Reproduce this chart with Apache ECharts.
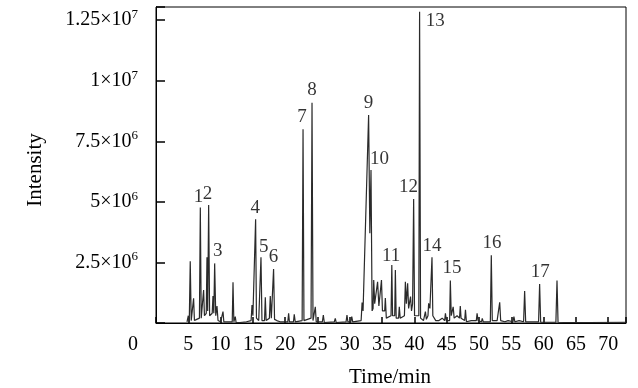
<!DOCTYPE html>
<html><head><meta charset="utf-8">
<script src="https://cdn.jsdelivr.net/npm/echarts@6/dist/echarts.min.js"></script>
<style>html,body{margin:0;padding:0;background:#fff}#c{width:638px;height:388px}</style>
</head><body><div id="c"></div>
<script>
// Retention time (min)
const times = [
 4.8,5.0,5.15,5.3,5.45,5.7,5.82,5.95,6.3,6.72,6.86,7.0,7.25,7.37,7.5,7.78,7.89,8.0,8.15,8.3,
 8.7,8.82,8.95,9.08,9.25,9.33,9.44,9.6,10.0,10.25,10.37,10.5,11.0,11.8,11.92,12.05,12.15,12.27,12.4,13.0,
 14.0,14.72,14.86,15.0,15.3,15.42,15.55,15.9,16.12,16.25,16.4,16.8,16.92,17.05,17.55,17.69,17.85,18.07,18.2,18.35,
 18.7,19.2,20.0,20.4,20.53,20.65,21.28,21.4,21.55,22.62,22.76,22.9,24.0,24.15,24.3,24.55,24.66,24.8,25.75,25.9,
 26.05,27.6,27.75,27.9,29.42,29.56,29.7,30.15,30.3,30.45,31.75,31.9,32.05,32.91,33.1,33.28,33.45,33.6,33.7,33.85,
 34.1,34.3,34.5,34.75,34.9,35.05,35.4,35.5,35.65,36.38,36.5,36.62,36.95,37.05,37.18,37.55,37.66,37.8,38.45,38.6,
 38.75,38.95,39.1,39.3,39.4,39.55,39.72,39.88,40.02,40.68,40.8,40.95,41.4,41.6,41.7,41.85,42.1,42.2,42.4,42.6,
 42.72,42.85,43.3,43.8,44.3,44.68,44.8,44.95,45.45,45.56,45.7,45.9,46.0,46.15,46.6,46.98,47.1,47.22,47.78,47.9,
 48.05,48.8,49.58,49.7,49.85,50.38,50.5,50.65,51.75,51.9,52.05,52.8,53.08,53.2,53.35,54.0,54.5,55.25,55.4,55.55,
 56.2,56.9,57.06,57.22,59.22,59.38,59.54,61.9,62.07,62.23,63.1,63.2,63.3,67.1,67.2,67.3,72.7
];
// Intensity (x10^6), same order as times
const intensities = [
 0.05,0.3,0.05,2.55,0.1,0.1,1.02,0.1,0.15,0.2,4.77,0.2,0.2,1.36,0.3,0.4,2.71,0.5,4.87,0.3,
 0.4,1.11,0.4,2.46,0.3,0.3,0.7,0.1,0.05,0.05,0.47,0.05,0.05,0.05,1.68,0.05,0.05,0.26,0.02,0.02,
 0.05,0.1,0.74,0.3,0.3,4.28,0.2,0.1,0.1,2.71,0.1,0.1,1.06,0.1,0.2,1.11,0.2,0.2,2.23,0.15,
 0.1,0.05,0.05,0.05,0.4,0.05,0.05,0.36,0.05,0.1,7.99,0.1,0.2,9.09,0.1,0.1,0.67,0.05,0.05,0.33,
 0.02,0.05,0.19,0.02,0.05,0.33,0.05,0.05,0.26,0.05,0.1,0.84,0.5,8.58,3.7,6.31,0.5,0.6,1.77,0.8,
 1.3,1.7,0.7,0.7,1.77,0.5,0.5,1.03,0.2,0.3,2.39,0.3,0.3,2.19,0.2,0.2,0.67,0.2,0.3,1.7,
 0.8,1.64,0.6,0.6,1.09,0.5,0.8,5.12,0.3,0.3,12.84,0.2,0.1,0.1,0.47,0.15,0.3,0.81,0.6,0.6,
 2.71,0.3,0.1,0.1,0.2,0.1,0.4,0.1,0.1,1.75,0.3,0.3,0.67,0.2,0.3,0.2,0.7,0.2,0.1,0.54,
 0.05,0.1,0.1,0.4,0.1,0.05,0.19,0.05,0.05,2.8,0.1,0.1,0.1,0.85,0.1,0.05,0.1,0.05,0.26,0.05,
 0.1,0.05,1.32,0.05,0.05,1.61,0.03,0.03,1.75,0.03,0.02,0.1,0.02,0.02,0.08,0.02,0.03
];

// Peak annotations: number and label position (time, intensity x10^6)
const peakNames = ['1','2','3','4','5','6','7','8','9','10','11','12','13','14','15','16','17'];
const peakLabelTimes = [6.59,7.99,9.54,15.37,16.66,18.2,22.6,24.15,32.91,34.61,36.38,39.1,43.24,42.72,45.82,52.01,59.49];
const peakLabelInts = [5.21,5.32,2.97,4.73,3.15,2.71,8.51,9.61,9.06,6.75,2.76,5.62,12.47,3.19,2.25,3.31,2.12];

// Axis ticks
const xTickValues = [5,10,15,20,25,30,35,40,45,50,55,60,65,70];
const yTickValues = [2.5,5,7.5,10,12.5];
const yTickMantissa = ['2.5','5','7.5','1','1.25'];
const yTickExp = ['6','6','6','7','7'];

const FONT = 'Liberation Serif';
const chart = echarts.init(document.getElementById('c'), null, {renderer:'canvas'});
const trace = times.map((t,i)=>[t, intensities[i]]);
const labelData = peakNames.map((n,i)=>({name:n, value:[peakLabelTimes[i], peakLabelInts[i]]}));

chart.setOption({
  animation:false,
  backgroundColor:'#fff',
  grid:{left:156, right:12, top:7, bottom:65, show:true, borderColor:'#000', borderWidth:1},
  xAxis:{
    type:'value', min:0, max:72.75, interval:5,
    axisLine:{show:true, lineStyle:{color:'#000', width:1}},
    axisTick:{show:true, inside:true, length:6, lineStyle:{color:'#000', width:1.5}},
    splitLine:{show:false},
    axisLabel:{margin:12, color:'#000', fontFamily:FONT, fontSize:20,
      formatter:v=> xTickValues.indexOf(v)>=0 ? String(v) : ''}
  },
  yAxis:{
    type:'value', min:0, max:13.04, interval:2.5,
    axisLine:{show:true, lineStyle:{color:'#000', width:1}},
    axisTick:{show:true, inside:true, length:9, lineStyle:{color:'#000', width:1.5}},
    splitLine:{show:false},
    axisLabel:{margin:18, color:'#000', fontFamily:FONT, fontSize:20,
      formatter:v=>{const k=yTickValues.indexOf(v); if(k<0) return ''; return '{b|'+yTickMantissa[k]+'×10}{s|'+yTickExp[k]+'}';},
      rich:{
        b:{fontFamily:FONT, fontSize:20, color:'#000', lineHeight:24},
        s:{fontFamily:FONT, fontSize:13, color:'#000', lineHeight:13, verticalAlign:'top'}
      }
    }
  },
  series:[
    {type:'line', data:trace, symbol:'none', lineStyle:{color:'#2a2a2a', width:1.2}, z:2},
    {type:'scatter', data:labelData, symbolSize:0, z:3,
      label:{show:true, position:'inside', formatter:p=>p.name, color:'#000', fontFamily:FONT, fontSize:19}}
  ],
  graphic:[
    {type:'text', x:133, y:345, style:{text:'0', fill:'#000', font:'20px "Liberation Serif"', textAlign:'center', textVerticalAlign:'middle'}},
    {type:'text', x:390, y:377, style:{text:'Time/min', fill:'#000', font:'21px "Liberation Serif"', textAlign:'center', textVerticalAlign:'middle'}},
    {type:'text', x:35, y:170, rotation:Math.PI/2, style:{text:'Intensity', fill:'#000', font:'21px "Liberation Serif"', textAlign:'center', textVerticalAlign:'middle'}}
  ]
});
</script></body></html>
